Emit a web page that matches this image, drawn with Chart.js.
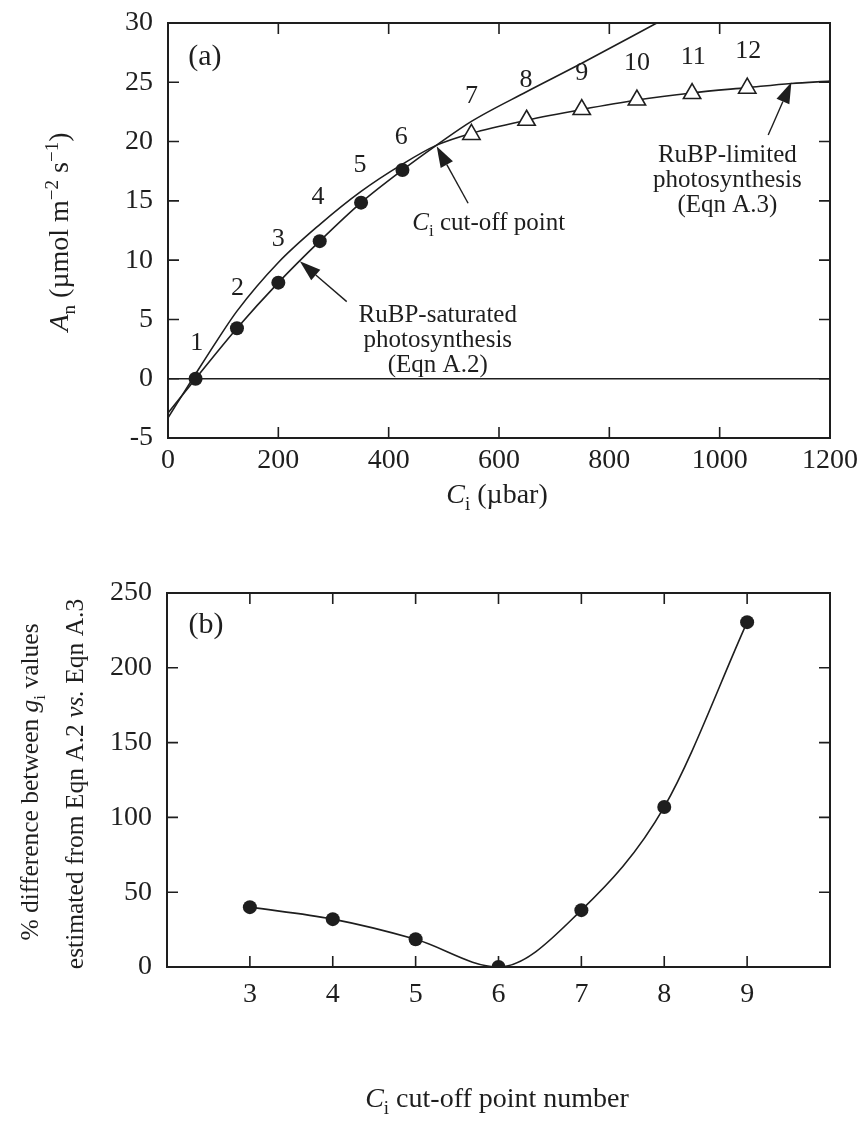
<!DOCTYPE html>
<html>
<head>
<meta charset="utf-8">
<script src="https://cdn.jsdelivr.net/npm/chart.js@4"></script>
<style>
  body { margin: 0; background: #fff; }
  #wrap { position: relative; width: 860px; height: 1122px; }
  canvas { position: absolute; left: 0; }
  #chartA { top: 0; }
  #chartB { top: 530px; }
</style>
</head>
<body>
<div id="wrap">
  <canvas id="chartA" width="860" height="530"></canvas>
  <canvas id="chartB" width="860" height="592"></canvas>
</div>
<script>
// ---- data (a): A/Ci points and fitted curves ----
const ciSat = [50, 125, 200, 275, 350, 425];
const anSat = [0, 4.25, 8.1, 11.6, 14.85, 17.6];
const ciLim = [550, 650, 750, 850, 950, 1050];
const anLim = [20.6, 21.8, 22.7, 23.5, 24.05, 24.5];
const pointNumbers = ['1','2','3','4','5','6','7','8','9','10','11','12'];

// RuBP-saturated curve (Eqn A.2)
const curveSatCi = [0, 50, 125, 200, 275, 350, 425, 487, 550, 650, 750, 886];
const curveSatAn = [-2.9, 0, 4.25, 8.1, 11.6, 14.85, 17.6, 19.7, 21.7, 24.2, 26.6, 30.0];
// RuBP-limited curve (Eqn A.3)
const curveLimCi = [0, 50, 90, 125, 200, 275, 350, 425, 487, 550, 650, 750, 850, 950, 1050, 1130, 1200];
const curveLimAn = [-3.3, 0.4, 3.3, 5.7, 9.8, 13.0, 15.8, 18.1, 19.7, 20.7, 21.8, 22.7, 23.5, 24.1, 24.55, 24.9, 25.1];

// ---- data (b): % difference vs cut-off point ----
const cutoffPoint = [3, 4, 5, 6, 7, 8, 9];
const pctDiff = [40, 32, 18.5, 0, 38, 107, 230.5];

const FONT = '"Liberation Serif", "Times New Roman", serif';
const INK = '#1e1e1e';

const xy = (xs, ys) => xs.map((x, i) => ({x: x, y: ys[i]}));

// ---------- text helpers ----------
function partFont(p, size) {
  const s = (p.sub || p.sup) ? Math.round(size * 0.68) : size;
  return (p.it ? 'italic ' : '') + s + 'px ' + FONT;
}
function drawRich(ctx, parts, x, y, size, align) {
  ctx.textAlign = 'left';
  ctx.textBaseline = 'alphabetic';
  const widths = parts.map(p => { ctx.font = partFont(p, size); return ctx.measureText(p.t).width; });
  const total = widths.reduce((a, b) => a + b, 0);
  let cx = align === 'center' ? x - total / 2 : (align === 'right' ? x - total : x);
  parts.forEach((p, i) => {
    ctx.font = partFont(p, size);
    const dy = p.sub ? size * 0.26 : (p.sup ? -size * 0.36 : 0);
    ctx.fillText(p.t, cx, y + dy);
    cx += widths[i];
  });
}
function drawRichRotated(ctx, parts, x, y, size) {
  ctx.save();
  ctx.translate(x, y);
  ctx.rotate(-Math.PI / 2);
  drawRich(ctx, parts, 0, 0, size, 'center');
  ctx.restore();
}
function arrow(ctx, x1, y1, x2, y2) {
  const ang = Math.atan2(y2 - y1, x2 - x1);
  const len = 21, half = 7;
  const bx = x2 - Math.cos(ang) * len, by = y2 - Math.sin(ang) * len;
  ctx.strokeStyle = INK; ctx.fillStyle = INK; ctx.lineWidth = 1.4;
  ctx.beginPath(); ctx.moveTo(x1, y1); ctx.lineTo(bx, by); ctx.stroke();
  ctx.beginPath();
  ctx.moveTo(x2, y2);
  ctx.lineTo(bx + Math.sin(ang) * half, by - Math.cos(ang) * half);
  ctx.lineTo(bx - Math.sin(ang) * half, by + Math.cos(ang) * half);
  ctx.closePath(); ctx.fill();
}

// box + inward tick marks on all four sides
function framePlugin(skipX) {
  return {
    id: 'frame',
    afterDatasetsDraw(chart) {
      const {ctx, chartArea: a, scales} = chart;
      ctx.save();
      ctx.strokeStyle = INK;
      ctx.lineWidth = 1.6;
      const tl = 11;
      scales.x.ticks.forEach(t => {
        if (t.value <= scales.x.min || t.value >= scales.x.max || skipX(t.value)) return;
        const px = scales.x.getPixelForValue(t.value);
        ctx.beginPath();
        ctx.moveTo(px, a.bottom); ctx.lineTo(px, a.bottom - tl);
        ctx.moveTo(px, a.top); ctx.lineTo(px, a.top + tl);
        ctx.stroke();
      });
      scales.y.ticks.forEach(t => {
        if (t.value <= scales.y.min || t.value >= scales.y.max) return;
        const py = scales.y.getPixelForValue(t.value);
        ctx.beginPath();
        ctx.moveTo(a.left, py); ctx.lineTo(a.left + tl, py);
        ctx.moveTo(a.right, py); ctx.lineTo(a.right - tl, py);
        ctx.stroke();
      });
      ctx.lineWidth = 2;
      ctx.strokeRect(a.left, a.top, a.right - a.left, a.bottom - a.top);
      ctx.restore();
    }
  };
}

// fixed axis boxes so the plot area lands where the figure has it
const fitX = h => s => { s.height = h; s.paddingLeft = 0; s.paddingRight = 0; };
const fitY = w => s => { s.width = w; s.paddingTop = 0; s.paddingBottom = 0; };

const tickFont = {family: FONT, size: 28};

// ================================================================
// Panel (a)
// ================================================================
const numberPos = [3.0, 7.6, 11.8, 15.35, 18.0, 20.4, 23.8, 25.2, 25.75, 26.6, 27.1, 27.6];
const numberCi = [52, 126, 200, 272, 348, 423, 550, 649, 750, 850, 952, 1052];

const notesA = {
  id: 'notesA',
  afterDraw(chart) {
    const {ctx, scales: {x, y}} = chart;
    const X = v => x.getPixelForValue(v), Y = v => y.getPixelForValue(v);
    ctx.save();
    ctx.fillStyle = INK;
    ctx.textAlign = 'center';
    ctx.textBaseline = 'middle';
    ctx.font = '26px ' + FONT;
    pointNumbers.forEach((n, i) => ctx.fillText(n, X(numberCi[i]), Y(numberPos[i])));
    ctx.font = '30px ' + FONT;
    ctx.fillText('(a)', X(67), Y(27.1));

    // annotations
    ['RuBP-saturated', 'photosynthesis', '(Eqn A.2)'].forEach((s, i) =>
      drawRich(ctx, [{t: s}], X(489), Y(4.8) + i * 25, 25, 'center'));
    arrow(ctx, X(324), Y(6.5), X(239), Y(9.9));

    drawRich(ctx, [{t: 'C', it: true}, {t: 'i', sub: true}, {t: ' cut-off point'}], X(720), Y(12.55), 25, 'right');
    arrow(ctx, X(544), Y(14.8), X(487), Y(19.6));

    ['RuBP-limited', 'photosynthesis', '(Eqn A.3)'].forEach((s, i) =>
      drawRich(ctx, [{t: s}], X(1014), Y(18.3) + i * 25, 25, 'center'));
    arrow(ctx, X(1088), Y(20.55), X(1130), Y(25.0));

    // axis titles
    drawRich(ctx, [{t: 'C', it: true}, {t: 'i', sub: true}, {t: ' (µbar)'}], 497, 503, 28, 'center');
    drawRichRotated(ctx, [{t: 'A', it: true}, {t: 'n', sub: true}, {t: ' (µmol m'}, {t: '−2', sup: true},
      {t: ' s'}, {t: '−1', sup: true}, {t: ')'}], 68, 232, 28);
    ctx.restore();
  }
};

new Chart(document.getElementById('chartA'), {
  type: 'scatter',
  data: {
    datasets: [
      {data: xy(ciSat, anSat), pointStyle: 'circle', pointRadius: 7, backgroundColor: INK, borderColor: INK, borderWidth: 0},
      {data: xy(ciLim, anLim), pointStyle: 'triangle', pointRadius: 10, backgroundColor: '#fff', borderColor: INK, borderWidth: 1.6},
      {data: xy(curveSatCi, curveSatAn), showLine: true, pointRadius: 0, borderColor: INK, borderWidth: 1.6, cubicInterpolationMode: 'monotone'},
      {data: xy(curveLimCi, curveLimAn), showLine: true, pointRadius: 0, borderColor: INK, borderWidth: 1.6, cubicInterpolationMode: 'monotone'}
    ]
  },
  options: {
    responsive: false,
    animation: false,
    layout: {padding: {top: 23, right: 30, left: 0, bottom: 0}},
    plugins: {legend: {display: false}, tooltip: {enabled: false}},
    scales: {
      x: {
        type: 'linear', min: 0, max: 1200,
        ticks: {stepSize: 200, font: tickFont, color: INK, padding: 6, maxRotation: 0, callback: v => String(v)},
        grid: {display: false, drawTicks: false},
        border: {display: false},
        afterFit: fitX(92)
      },
      y: {
        min: -5, max: 30,
        ticks: {stepSize: 5, font: tickFont, color: INK, padding: 15, callback: v => String(v)},
        grid: {drawTicks: false, lineWidth: 1.6, color: c => (c.tick && c.tick.value === 0) ? INK : 'rgba(0,0,0,0)'},
        border: {display: false},
        afterFit: fitY(168)
      }
    }
  },
  plugins: [framePlugin(() => false), notesA]
});

// ================================================================
// Panel (b)
// ================================================================
const notesB = {
  id: 'notesB',
  afterDraw(chart) {
    const {ctx, scales: {x, y}} = chart;
    ctx.save();
    ctx.fillStyle = INK;
    ctx.textAlign = 'center';
    ctx.textBaseline = 'middle';
    ctx.font = '30px ' + FONT;
    ctx.fillText('(b)', x.getPixelForValue(2.47), y.getPixelForValue(228.6));
    drawRich(ctx, [{t: 'C', it: true}, {t: 'i', sub: true}, {t: ' cut-off point number'}], 497, 577, 28, 'center');
    drawRichRotated(ctx, [{t: '% difference between '}, {t: 'g', it: true}, {t: 'i', sub: true}, {t: ' values'}], 38, 252, 25.5);
    drawRichRotated(ctx, [{t: 'estimated from Eqn A.2 '}, {t: 'vs.', it: true}, {t: ' Eqn A.3'}], 83, 254, 25.5);
    ctx.restore();
  }
};

new Chart(document.getElementById('chartB'), {
  type: 'scatter',
  data: {
    datasets: [
      {data: xy(cutoffPoint, pctDiff), pointStyle: 'circle', pointRadius: 7, backgroundColor: INK, borderColor: INK, borderWidth: 0},
      {data: xy(cutoffPoint, pctDiff), showLine: true, pointRadius: 0, borderColor: INK, borderWidth: 1.6, cubicInterpolationMode: 'monotone'}
    ]
  },
  options: {
    responsive: false,
    animation: false,
    layout: {padding: {top: 63, right: 30, left: 0, bottom: 0}},
    plugins: {legend: {display: false}, tooltip: {enabled: false}},
    scales: {
      x: {
        type: 'linear', min: 2, max: 10,
        ticks: {stepSize: 1, font: tickFont, color: INK, padding: 11, maxRotation: 0,
          callback: v => (v < 3 || v > 9) ? '' : String(v)},
        grid: {display: false, drawTicks: false},
        border: {display: false},
        afterFit: fitX(155)
      },
      y: {
        min: 0, max: 250,
        ticks: {stepSize: 50, font: tickFont, color: INK, padding: 15, callback: v => String(v)},
        grid: {display: false, drawTicks: false},
        border: {display: false},
        afterFit: fitY(167)
      }
    }
  },
  plugins: [framePlugin(v => v < 3 || v > 9), notesB]
});
</script>
</body>
</html>
